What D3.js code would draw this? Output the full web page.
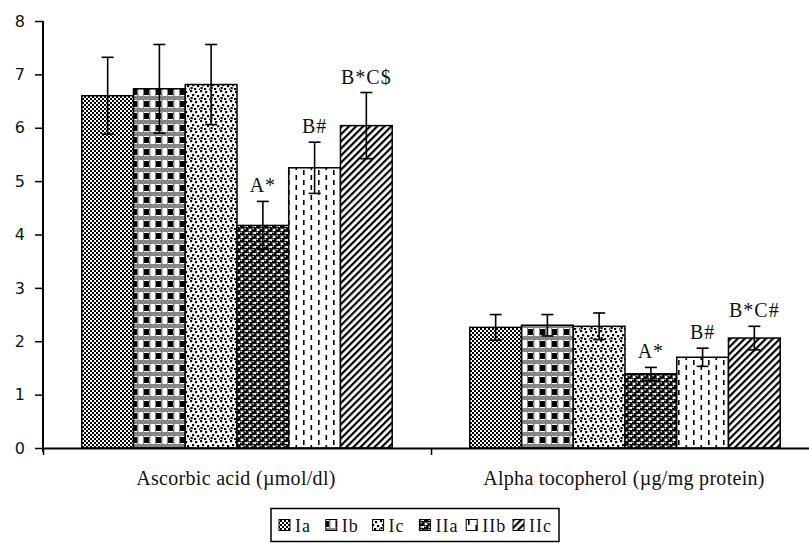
<!DOCTYPE html>
<html>
<head>
<meta charset="utf-8">
<script src="https://cdn.jsdelivr.net/npm/d3@7"></script>
<style>
    body { margin: 0; background: #fff; }
    svg { display: block; }
</style>
</head>
<body>
<script>
"use strict";

// chart values
const categories = ["Ascorbic acid (\u00b5mol/dl)", "Alpha tocopherol (\u00b5g/mg protein)"];
const groups = ["Ia", "Ib", "Ic", "IIa", "IIb", "IIc"];
const ascorbicMeans = [6.60, 6.73, 6.81, 4.17, 5.25, 6.04];
const ascorbicErrors = [0.72, 0.83, 0.75, 0.45, 0.48, 0.62];
const ascorbicMarks = ["", "", "", "A*", "B#", "B*C$"];
const tocopherolMeans = [2.26, 2.30, 2.28, 1.39, 1.70, 2.06];
const tocopherolErrors = [0.24, 0.20, 0.25, 0.12, 0.17, 0.22];
const tocopherolMarks = ["", "", "", "A*", "B#", "B*C#"];
const yTicks = [0, 1, 2, 3, 4, 5, 6, 7, 8];

(function(){
    let svgContainer = "";

    const measurements = {
        width: 809,
        height: 543,
        left: 43,
        right: 819,
        top: 21,
        bottom: 448
    }

    window.onload = function() {
        svgContainer = d3.select('body').append("svg")
            .attr('width', measurements.width)
            .attr('height', measurements.height);
        makePatterns();

        const table = [
            {cat: categories[0], means: ascorbicMeans, errors: ascorbicErrors, marks: ascorbicMarks},
            {cat: categories[1], means: tocopherolMeans, errors: tocopherolErrors, marks: tocopherolMarks}
        ];
        let data = [];
        table.forEach((t) => {
            groups.forEach((g, i) => {
                data.push({cat: t.cat, group: g, value: t.means[i], err: t.errors[i], mark: t.marks[i]});
            });
        });

        let scaleX = d3.scaleBand()
            .domain(categories)
            .range([measurements.left, measurements.right])
            .paddingInner(0.2)
            .paddingOuter(0.1);

        let scaleGroup = d3.scaleBand()
            .domain(groups)
            .range([0, scaleX.bandwidth()]);

        let scaleY = d3.scaleLinear()
            .domain([0, 8])
            .range([measurements.bottom, measurements.top]);

        plotData(scaleX, scaleGroup, scaleY, data);
        drawAxes(scaleX, scaleY);
        makeLabels(scaleX);
        makeLegend();
    }

    function makePatterns() {
        const defs = svgContainer.append("defs");

        // Ia : fine checkerboard
        let p = defs.append("pattern").attr("id", "pat-Ia")
            .attr("patternUnits", "userSpaceOnUse").attr("width", 4).attr("height", 4);
        p.append("rect").attr("width", 4).attr("height", 4).attr("fill", "#fff");
        p.append("rect").attr("x", 0).attr("y", 0).attr("width", 2).attr("height", 2).attr("fill", "#000");
        p.append("rect").attr("x", 2).attr("y", 2).attr("width", 2).attr("height", 2).attr("fill", "#000");

        // Ib : black/white squares with grey bands
        p = defs.append("pattern").attr("id", "pat-Ib")
            .attr("patternUnits", "userSpaceOnUse").attr("width", 12).attr("height", 12);
        p.append("rect").attr("width", 12).attr("height", 12).attr("fill", "#fff");
        p.append("rect").attr("x", 0).attr("y", 0).attr("width", 12).attr("height", 4).attr("fill", "#858585");
        p.append("rect").attr("x", 0).attr("y", 5).attr("width", 5).attr("height", 6).attr("fill", "#000");
        p.append("rect").attr("x", 5).attr("y", 4).attr("width", 1.5).attr("height", 8).attr("fill", "#858585");
        p.append("rect").attr("x", 11).attr("y", 4).attr("width", 1).attr("height", 8).attr("fill", "#858585");

        // Ic : scattered dots
        p = defs.append("pattern").attr("id", "pat-Ic")
            .attr("patternUnits", "userSpaceOnUse").attr("width", 10).attr("height", 10);
        p.append("rect").attr("width", 10).attr("height", 10).attr("fill", "#fff");
        [[0, 0], [5, 1], [2, 4], [7, 5], [4, 8], [9, 8.5], [0.5, 7]].forEach((d) => {
            p.append("rect").attr("x", d[0]).attr("y", d[1]).attr("width", 2.2).attr("height", 2.2).attr("fill", "#000");
        });

        // IIa : spheres
        p = defs.append("pattern").attr("id", "pat-IIa")
            .attr("patternUnits", "userSpaceOnUse").attr("width", 8).attr("height", 7);
        p.append("rect").attr("width", 8).attr("height", 7).attr("fill", "#fff");
        [[2, 2], [6, 5.5], [6, -1.5], [-2, 5.5], [10, 5.5], [10, -1.5], [-2, -1.5]].forEach((d) => {
            p.append("circle").attr("cx", d[0]).attr("cy", d[1]).attr("r", 2.7).attr("fill", "#000");
            p.append("circle").attr("cx", d[0] - 0.8).attr("cy", d[1] - 0.8).attr("r", 0.8).attr("fill", "#fff");
        });

        // IIb : short vertical dashes
        p = defs.append("pattern").attr("id", "pat-IIb")
            .attr("patternUnits", "userSpaceOnUse").attr("width", 15).attr("height", 10);
        p.append("rect").attr("width", 15).attr("height", 10).attr("fill", "#fff");
        p.append("rect").attr("x", 3).attr("y", 0).attr("width", 1.6).attr("height", 5).attr("fill", "#000");
        p.append("rect").attr("x", 10.5).attr("y", 5).attr("width", 1.6).attr("height", 5).attr("fill", "#000");

        // IIc : diagonal stripes
        p = defs.append("pattern").attr("id", "pat-IIc")
            .attr("patternUnits", "userSpaceOnUse").attr("width", 5).attr("height", 5)
            .attr("patternTransform", "rotate(45)");
        p.append("rect").attr("width", 5).attr("height", 5).attr("fill", "#fff");
        p.append("rect").attr("x", 0).attr("y", 0).attr("width", 2.2).attr("height", 5).attr("fill", "#000");
    }

    function drawAxes(scaleX, scaleY) {
        let yAxis = d3.axisLeft()
            .scale(scaleY)
            .tickValues(yTicks)
            .tickSize(8)
            .tickSizeOuter(0)
            .tickPadding(10);

        let gy = svgContainer.append('g')
            .attr('transform', 'translate(' + measurements.left + ', 0)')
            .call(yAxis);
        gy.select(".domain").attr("stroke", "#000").attr("stroke-width", 2)
            .attr("d", "M0," + scaleY(8) + "V" + (scaleY(0) + 4));
        gy.selectAll(".tick line").attr("stroke", "#000").attr("stroke-width", 1.5);
        gy.selectAll(".tick text")
            .style("font-family", "'DejaVu Sans', sans-serif")
            .style("font-size", "16px")
            .attr("fill", "#111");

        // x axis with ticks on category boundaries
        const half = scaleX.step() * scaleX.paddingInner() / 2;
        let bounds = [measurements.left];
        categories.forEach((c) => bounds.push(scaleX(c) + scaleX.bandwidth() + half));
        let scaleB = d3.scaleLinear().domain([0, bounds.length - 1]).range([bounds[0], bounds[bounds.length - 1]]);

        let xAxis = d3.axisBottom()
            .scale(scaleB)
            .tickValues(d3.range(bounds.length))
            .tickSize(7)
            .tickSizeOuter(0)
            .tickFormat("");

        let gx = svgContainer.append('g')
            .attr('transform', 'translate(0,' + measurements.bottom + ')')
            .call(xAxis);
        gx.select(".domain").attr("stroke", "#000").attr("stroke-width", 2);
        gx.selectAll(".tick line").attr("stroke", "#000").attr("stroke-width", 1.5);
    }

    function plotData(scaleX, scaleGroup, scaleY, data) {
        const xMap = function(d) { return scaleX(d.cat) + scaleGroup(d.group) }
        const cMap = function(d) { return xMap(d) + scaleGroup.bandwidth() / 2 }

        svgContainer.selectAll(".bar")
            .data(data)
            .enter()
            .append('rect')
                .attr('class', 'bar')
                .attr('x', xMap)
                .attr('y', (d) => scaleY(d.value))
                .attr('width', scaleGroup.bandwidth())
                .attr('height', (d) => scaleY(0) - scaleY(d.value))
                .attr('fill', (d) => "url(#pat-" + d.group + ")")
                .attr('stroke', '#000')
                .attr('stroke-width', 1.5);

        // error bars
        const eb = svgContainer.selectAll(".err")
            .data(data)
            .enter()
            .append('g')
                .attr('class', 'err')
                .attr('stroke', '#000')
                .attr('stroke-width', 1.6);
        eb.append('line')
            .attr('x1', cMap).attr('x2', cMap)
            .attr('y1', (d) => scaleY(d.value + d.err))
            .attr('y2', (d) => scaleY(d.value - d.err));
        eb.append('line')
            .attr('x1', (d) => cMap(d) - 6).attr('x2', (d) => cMap(d) + 6)
            .attr('y1', (d) => scaleY(d.value + d.err))
            .attr('y2', (d) => scaleY(d.value + d.err));
        eb.append('line')
            .attr('x1', (d) => cMap(d) - 6).attr('x2', (d) => cMap(d) + 6)
            .attr('y1', (d) => scaleY(d.value - d.err))
            .attr('y2', (d) => scaleY(d.value - d.err));

        // significance marks
        svgContainer.selectAll(".mark")
            .data(data.filter((d) => d.mark !== ""))
            .enter()
            .append('text')
                .attr('class', 'mark')
                .attr('x', cMap)
                .attr('y', (d) => scaleY(d.value + d.err) - 9)
                .attr('text-anchor', 'middle')
                .style('font-family', "'Liberation Serif', serif")
                .style('font-size', '20px')
                .style('letter-spacing', '1px')
                .attr('fill', '#111')
                .text((d) => d.mark);
    }

    function makeLabels(scaleX) {
        svgContainer.selectAll(".catlabel")
            .data(categories)
            .enter()
            .append('text')
                .attr('class', 'catlabel')
                .attr('x', (d) => scaleX(d) + scaleX.bandwidth() / 2 - 1)
                .attr('y', 485)
                .attr('text-anchor', 'middle')
                .style('font-family', "'Liberation Serif', serif")
                .style('font-size', '20px')
                .style('letter-spacing', '0.3px')
                .attr('fill', '#111')
                .text((d) => d);
    }

    function makeLegend() {
        const lg = svgContainer.append('g').attr('class', 'legend');
        lg.append('rect')
            .attr('x', 271).attr('y', 508.5)
            .attr('width', 288).attr('height', 33)
            .attr('fill', '#fff')
            .attr('stroke', '#000')
            .attr('stroke-width', 1.5);

        let scaleL = d3.scalePoint()
            .domain(groups)
            .range([279, 513]);

        groups.forEach((g) => {
            lg.append('rect')
                .attr('x', scaleL(g)).attr('y', 519.5)
                .attr('width', 11).attr('height', 11)
                .attr('fill', "url(#pat-" + g + ")")
                .attr('stroke', '#000')
                .attr('stroke-width', 1);
            lg.append('text')
                .attr('x', scaleL(g) + 16).attr('y', 532)
                .style('font-family', "'Liberation Serif', serif")
                .style('font-size', '18px')
                .style('letter-spacing', '1px')
                .attr('fill', '#111')
                .text(g);
        });
    }
})()
</script>
</body>
</html>
